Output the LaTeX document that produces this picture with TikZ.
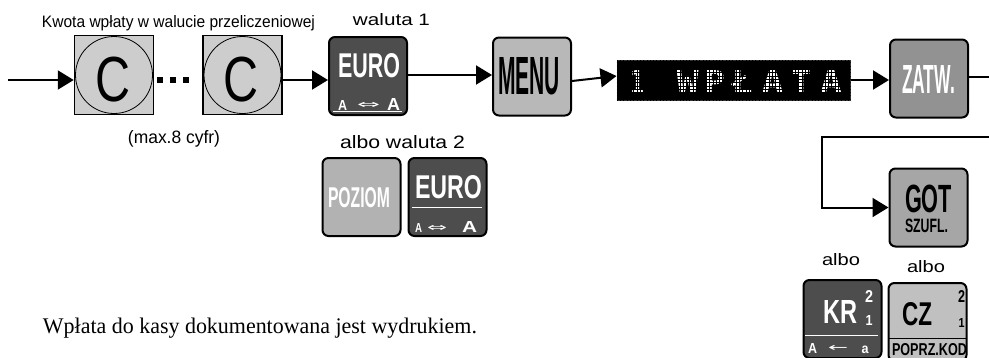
\documentclass[tikz,border=0pt]{standalone}
\usepackage{fontspec}
\setmainfont{Liberation Sans}
\newfontfamily\tnr{Liberation Serif}
\newfontfamily\djv{DejaVu Sans}
\newfontfamily\djm{DejaVu Sans Mono}
\usetikzlibrary{arrows.meta,calc}
\definecolor{keydark}{RGB}{77,77,77}
\definecolor{menufill}{RGB}{184,184,184}
\definecolor{zatwfill}{RGB}{146,146,146}
\definecolor{gotfill}{RGB}{166,166,166}
\definecolor{pozfill}{RGB}{178,178,178}
\definecolor{czfill}{RGB}{192,192,192}
\definecolor{cfill}{RGB}{205,205,205}
\newcommand\fitt[3]{\resizebox{#1pt}{#2pt}{#3}}
\newcommand\dchar[2]{\resizebox{#1pt}{23pt}{\djm\bfseries #2}}
\begin{document}
\begin{tikzpicture}[x=1pt,y=-1pt,
  txt/.style={inner sep=0pt, outer sep=0pt, anchor=base},
  sym/.style={inner sep=0pt, outer sep=0pt, anchor=center},
  key/.style={draw=black, line width=2pt, rounded corners=6pt, minimum width=78pt, minimum height=78pt, inner sep=0pt},
  ckey/.style={draw=black, line width=1.5pt, fill=cfill, minimum width=79pt, minimum height=79pt, inner sep=0pt},
  ring/.style={circle, draw=black, line width=0.8pt, minimum size=77pt, inner sep=0pt},
  dotsq/.style={fill=black, minimum size=6pt, inner sep=0pt},
  arr/.style={line width=2pt, -{Triangle[length=16pt,width=19pt]}},
  keyline/.style={line width=1pt}]
\clip (0,0) rectangle (989,357);
\fill[white] (0,0) rectangle (989,357);

% helper y-levels
\coordinate (h75) at (0,75);
\coordinate (h76) at (0,76);
\coordinate (h80) at (0,80);
\coordinate (h81) at (0,81);
\coordinate (h77) at (0,77);

% labels
\node[txt] (kwota) at (178.5,27) {\fitt{273}{12}{Kwota wpłaty w walucie przeliczeniowej}};
\node[txt] (wal1) at (391.5,25) {\fitt{77}{12}{waluta 1}};
\node[txt] (maxc) at (174,143) {\fitt{92}{13}{(max.8 cyfr)}};
\node[txt] (albo2) at (402.5,148) {\fitt{125}{13}{albo waluta 2}};
\node[txt] (alboL) at (841,265) {\fitt{38}{12}{albo}};
\node[txt] (alboR) at (926,272) {\fitt{38}{12}{albo}};
\node[txt] (bottom) at (260,333) {\fitt{434}{15.5}{\tnr Wpłata do kasy dokumentowana jest wydrukiem.}};

% C keys
\node[ckey] (c1) at (114,75) {};
\node[ring] (c1r) at (c1.center) {};
\node[txt] (c1t) at (113,101.5) {\fitt{35}{44.5}{C}};
\node[ckey] (c2) at (242.5,75) {};
\node[ring] (c2r) at (c2.center) {};
\node[txt] (c2t) at (241.5,101.5) {\fitt{35}{44.5}{C}};
\node[dotsq] (d1) at (160,80) {};
\node[dotsq] (d2) at (173,80) {};
\node[dotsq] (d3) at (186,80) {};

% EURO key 1
\node[key, fill=keydark] (euro1) at (368,76) {};
\node[txt, text=white] (euro1t) at (369,77) {\fitt{62}{24}{\bfseries EURO}};
\node[txt, text=white] (euro1a) at (342.5,110) {\fitt{9}{10}{\bfseries A}};
\node[sym, text=white] (euro1s) at (368.5,105) {\fitt{23}{6}{\djv ⇔}};
\node[txt, text=white] (euro1b) at (393.5,110) {\fitt{13}{12}{\bfseries A}};
\draw[keyline, white] (333,111) -- (402,111);

% MENU
\node[key, fill=menufill] (menu) at (532,76.5) {};
\node[txt] (menut) at (529,94) {\fitt{62}{37}{\bfseries MENU}};

% display
\node[fill=black, draw=black!80, line width=1pt, minimum width=233pt, minimum height=40pt, inner sep=0pt] (disp) at (733.5,80) {};
\node[txt, text=white] (ch1) at (637,93) {\dchar{14}{1}};
\node[txt, text=white] (ch2) at (687.5,93) {\dchar{22}{W}};
\node[txt, text=white] (ch3) at (714.5,93) {\dchar{21}{P}};
\node[txt, text=white] (ch4) at (742,93) {\dchar{21}{Ł}};
\node[txt, text=white] (ch5) at (772.5,93) {\dchar{22}{A}};
\node[txt, text=white] (ch6) at (801,93) {\dchar{20}{T}};
\node[txt, text=white] (ch7) at (831,93) {\dchar{22}{A}};
\begin{scope}
  \clip (disp.south west) rectangle (disp.north east);
  \draw[black, line width=0.6pt, step=3.3pt] (disp.south west) grid (disp.north east);
\end{scope}

% ZATW
\node[key, fill=zatwfill] (zatw) at (929,78.5) {};
\node[txt, text=white] (zatwt) at (928.5,93) {\fitt{53}{28}{\bfseries ZATW.}};

% GOT
\node[key, fill=gotfill] (got) at (928.5,207.5) {};
\node[txt] (gott) at (928.5,212.5) {\fitt{47}{27.5}{\bfseries GOT}};
\node[txt] (szufl) at (926.5,232) {\fitt{43}{13.5}{\bfseries SZUFL.}};

% POZIOM and EURO key 2
\node[key, fill=pozfill] (poziom) at (361.5,197) {};
\node[txt, text=white] (poziomt) at (359,207) {\fitt{62}{20}{\bfseries POZIOM}};
\node[key, fill=keydark] (euro2) at (447.5,197) {};
\node[txt, text=white] (euro2t) at (448.5,198) {\fitt{67}{23}{\bfseries EURO}};
\draw[keyline, white] (412,207) -- (482,207);
\node[txt, text=white] (euro2a) at (418.5,232) {\fitt{7}{9}{\bfseries A}};
\node[sym, text=white] (euro2s) at (437,228) {\fitt{20}{6}{\djv ⇔}};
\node[txt, text=white] (euro2b) at (469.5,232) {\fitt{15}{11}{\bfseries A}};

% KR
\node[key, fill=keydark] (kr) at (842.5,319) {};
\node[txt, text=white] (krt) at (840,323) {\fitt{34}{23}{\bfseries KR}};
\node[txt, text=white] (kr2) at (869,302) {\fitt{8}{12}{\bfseries 2}};
\node[txt, text=white] (kr1) at (869,325) {\fitt{7}{10}{\bfseries 1}};
\draw[keyline, white] (805,335) -- (878,335);
\node[txt, text=white] (kra) at (812.5,353) {\fitt{9}{10}{\bfseries A}};
\node[sym, text=white] (krs) at (838,348) {\fitt{20}{6}{\djv ←}};
\node[txt, text=white] (krb) at (865,353) {\fitt{7}{7.5}{\bfseries a}};

% CZ
\node[key, fill=czfill] (cz) at (927.5,322) {};
\node[txt] (czt) at (917,325) {\fitt{30}{23}{\bfseries CZ}};
\node[txt] (cz2) at (961.5,302) {\fitt{7}{12}{\bfseries 2}};
\node[txt] (cz1) at (961.5,327) {\fitt{6}{9}{\bfseries 1}};
\draw[keyline, black] (888,338) -- (967,338);
\node[txt] (czk) at (929.5,355) {\fitt{75}{12}{\bfseries POPRZ.KOD}};

% connectors
\coordinate (start) at (8,80);
\draw[arr] (start) -- (start -| c1.west);
\draw[arr] (c2.east |- h80) -- (euro1.west |- h80);
\draw[arr] (euro1.east |- h75) -- (menu.west |- h75);
\draw[arr] (menu.east |- h81) -- (disp.west |- h76);
\draw[arr] (disp.east |- h80) -- (zatw.west |- h80);
\coordinate (rt) at (995,77);
\coordinate (ret) at (822,137);
\draw[arr] (zatw.east |- h77) -- (rt) |- (ret) |- (got.west);
\end{tikzpicture}
\end{document}
